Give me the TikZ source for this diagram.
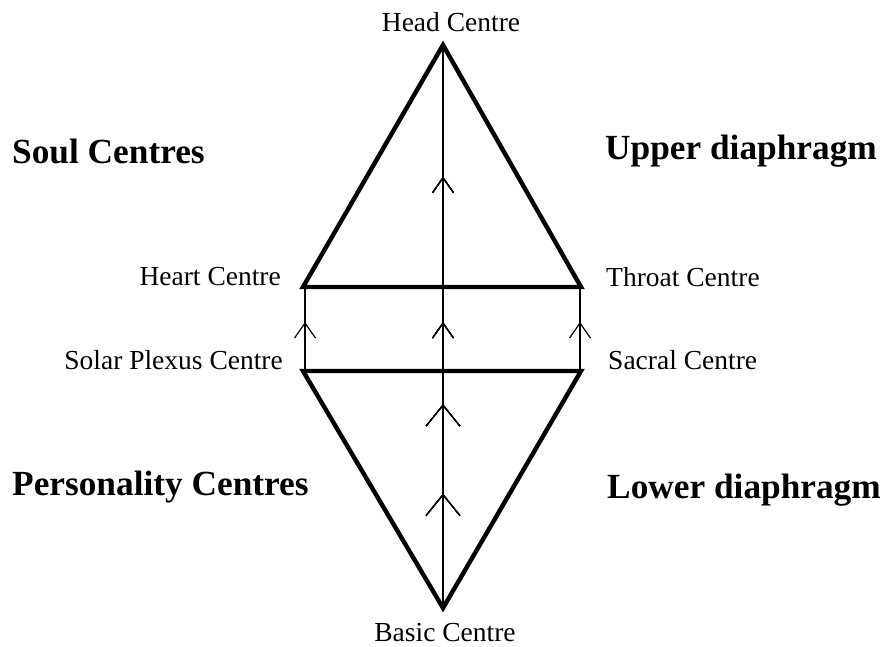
\documentclass[tikz,border=0pt]{standalone}
\usepackage{fontspec}
\setmainfont{Liberation Serif}
\usetikzlibrary{arrows.meta,decorations.markings}
\tikzset{
  x=1pt, y=-1pt,
  centre/.style={font=\fontsize{27.5}{33}\selectfont, inner sep=0pt},
  group/.style={font=\fontsize{35.3}{42}\selectfont\bfseries, inner sep=0pt},
  edge/.style={line width=4.4pt, line join=miter},
  rise/.style={line width=1.2pt},
  smallbarb/.style={postaction={decorate}, decoration={markings, mark=at position #1 with {\arrow[line width=1.2pt]{Straight Barb[length=15pt, width=21pt]}}}},
  bigbarb/.style={postaction={decorate}, decoration={markings, mark=at position #1 with {\arrow[line width=1.2pt]{Straight Barb[length=21pt, width=34pt]}}}},
}
\begin{document}
\begin{tikzpicture}
  \useasboundingbox (0,0) rectangle (885,647);
  % centres
  \coordinate (head) at (443,45);
  \coordinate (heart) at (303,287);
  \coordinate (throat) at (581,287);
  \coordinate (solar) at (303,371);
  \coordinate (sacral) at (581,371);
  \coordinate (basic) at (443,608);
  \coordinate (heartlow) at (305,287);
  \coordinate (solarlow) at (305,371);
  \coordinate (throatlow) at (580,287);
  \coordinate (sacrallow) at (580,371);
  % triangles
  \draw[edge] (head) -- (heart) -- (throat) -- cycle;
  \draw[edge] (solar) -- (sacral) -- (basic) -- cycle;
  % upward flow
  \draw[rise, smallbarb=0.766, smallbarb=0.508, bigbarb=0.362, bigbarb=0.203] (basic) -- (head);
  \draw[rise, smallbarb=0.583] (solarlow) -- (heartlow);
  \draw[rise, smallbarb=0.583] (sacrallow) -- (throatlow);
  % labels
  \node[centre] (headlbl) at (451,22) {Head Centre};
  \node[centre] (basiclbl) at (445,633) {Basic Centre};
  \node[centre, anchor=east] (heartlbl) at (281,277) {Heart Centre};
  \node[centre, anchor=west] (throatlbl) at (606,277) {Throat Centre};
  \node[centre, anchor=east] (solarlbl) at (283,360) {Solar Plexus Centre};
  \node[centre, anchor=west] (sacrallbl) at (608,360) {Sacral Centre};
  \node[group, anchor=west] (soul) at (12,151) {Soul Centres};
  \node[group, anchor=west] (upper) at (605,151) {Upper diaphragm};
  \node[group, anchor=west] (person) at (12,487) {Personality Centres};
  \node[group, anchor=west] (lower) at (607,490) {Lower diaphragm};
\end{tikzpicture}
\end{document}
